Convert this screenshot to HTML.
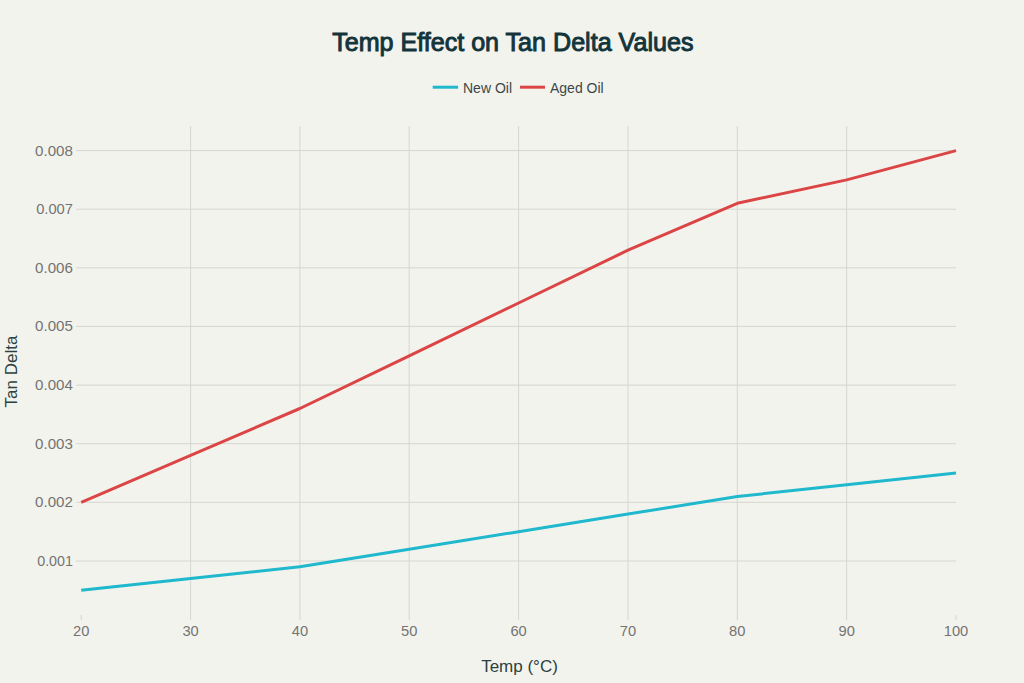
<!DOCTYPE html>
<html><head><meta charset="utf-8"><style>
html,body{margin:0;padding:0;background:#F3F3EE;}
svg{display:block;}
text{font-family:"Liberation Sans",sans-serif;}
.tick{font-size:14px;fill:#737372;}
.title{font-size:25.1px;font-weight:400;fill:#13343B;stroke:#13343B;stroke-width:0.95px;letter-spacing:0px;}
.leg{font-size:14px;fill:#3b4848;}
.axt{font-size:17px;fill:#2a4242;}
</style></head><body>
<svg width="1024" height="683" viewBox="0 0 1024 683">
<rect width="1024" height="683" fill="#F3F3EE"/>
<text x="512.8" y="50.5" text-anchor="middle" class="title">Temp Effect on Tan Delta Values</text>
<line x1="432.7" y1="87.2" x2="458.1" y2="87.2" stroke="#1FB8CD" stroke-width="3"/>
<text x="463" y="92.5" class="leg">New Oil</text>
<line x1="520" y1="87.2" x2="545" y2="87.2" stroke="#DB4545" stroke-width="3"/>
<text x="550" y="92.5" class="leg">Aged Oil</text>
<line x1="76.2" y1="561.0" x2="956.0" y2="561.0" stroke="#d6d6d1" stroke-width="1"/>
<text transform="translate(72.9,566.0) scale(1.02,1)" text-anchor="end" class="tick">0.001</text>
<line x1="76.2" y1="502.3" x2="956.0" y2="502.3" stroke="#d6d6d1" stroke-width="1"/>
<text transform="translate(72.9,507.3) scale(1.08,1)" text-anchor="end" class="tick">0.002</text>
<line x1="76.2" y1="443.7" x2="956.0" y2="443.7" stroke="#d6d6d1" stroke-width="1"/>
<text transform="translate(72.9,448.7) scale(1.08,1)" text-anchor="end" class="tick">0.003</text>
<line x1="76.2" y1="385.1" x2="956.0" y2="385.1" stroke="#d6d6d1" stroke-width="1"/>
<text transform="translate(72.9,390.1) scale(1.08,1)" text-anchor="end" class="tick">0.004</text>
<line x1="76.2" y1="326.4" x2="956.0" y2="326.4" stroke="#d6d6d1" stroke-width="1"/>
<text transform="translate(72.9,331.4) scale(1.08,1)" text-anchor="end" class="tick">0.005</text>
<line x1="76.2" y1="267.8" x2="956.0" y2="267.8" stroke="#d6d6d1" stroke-width="1"/>
<text transform="translate(72.9,272.8) scale(1.08,1)" text-anchor="end" class="tick">0.006</text>
<line x1="76.2" y1="209.2" x2="956.0" y2="209.2" stroke="#d6d6d1" stroke-width="1"/>
<text transform="translate(72.9,214.2) scale(1.05,1)" text-anchor="end" class="tick">0.007</text>
<line x1="76.2" y1="150.6" x2="956.0" y2="150.6" stroke="#d6d6d1" stroke-width="1"/>
<text transform="translate(72.9,155.6) scale(1.08,1)" text-anchor="end" class="tick">0.008</text>
<line x1="81.2" y1="615.0" x2="81.2" y2="620.0" stroke="#d6d6d1" stroke-width="1"/>
<text transform="translate(81.2,636) scale(1.05,1)" text-anchor="middle" class="tick">20</text>
<line x1="190.6" y1="126.2" x2="190.6" y2="620.0" stroke="#d6d6d1" stroke-width="1"/>
<text transform="translate(190.6,636) scale(1.05,1)" text-anchor="middle" class="tick">30</text>
<line x1="299.9" y1="126.2" x2="299.9" y2="620.0" stroke="#d6d6d1" stroke-width="1"/>
<text transform="translate(299.9,636) scale(1.05,1)" text-anchor="middle" class="tick">40</text>
<line x1="409.2" y1="126.2" x2="409.2" y2="620.0" stroke="#d6d6d1" stroke-width="1"/>
<text transform="translate(409.2,636) scale(1.05,1)" text-anchor="middle" class="tick">50</text>
<line x1="518.6" y1="126.2" x2="518.6" y2="620.0" stroke="#d6d6d1" stroke-width="1"/>
<text transform="translate(518.6,636) scale(1.05,1)" text-anchor="middle" class="tick">60</text>
<line x1="628.0" y1="126.2" x2="628.0" y2="620.0" stroke="#d6d6d1" stroke-width="1"/>
<text transform="translate(628.0,636) scale(1.05,1)" text-anchor="middle" class="tick">70</text>
<line x1="737.3" y1="126.2" x2="737.3" y2="620.0" stroke="#d6d6d1" stroke-width="1"/>
<text transform="translate(737.3,636) scale(1.05,1)" text-anchor="middle" class="tick">80</text>
<line x1="846.7" y1="126.2" x2="846.7" y2="620.0" stroke="#d6d6d1" stroke-width="1"/>
<text transform="translate(846.7,636) scale(1.05,1)" text-anchor="middle" class="tick">90</text>
<line x1="956.0" y1="615.0" x2="956.0" y2="620.0" stroke="#d6d6d1" stroke-width="1"/>
<text transform="translate(956.0,636) scale(1.05,1)" text-anchor="middle" class="tick">100</text>
<polyline points="81.2,590.3 190.6,578.6 299.9,566.8 409.2,549.2 518.6,531.7 628.0,514.1 737.3,496.5 846.7,484.8 956.0,473.0" fill="none" stroke="#1FB8CD" stroke-width="3" stroke-linejoin="round" stroke-linecap="butt"/>
<polyline points="81.2,502.3 190.6,455.4 299.9,408.5 409.2,355.8 518.6,303.0 628.0,250.2 737.3,203.3 846.7,179.9 956.0,150.6" fill="none" stroke="#DB4545" stroke-width="3" stroke-linejoin="round" stroke-linecap="butt"/>
<text x="519.5" y="671.8" text-anchor="middle" class="axt">Temp (°C)</text>
<text transform="translate(16.7,371.5) rotate(-90)" text-anchor="middle" class="axt">Tan Delta</text>
</svg>
</body></html>
